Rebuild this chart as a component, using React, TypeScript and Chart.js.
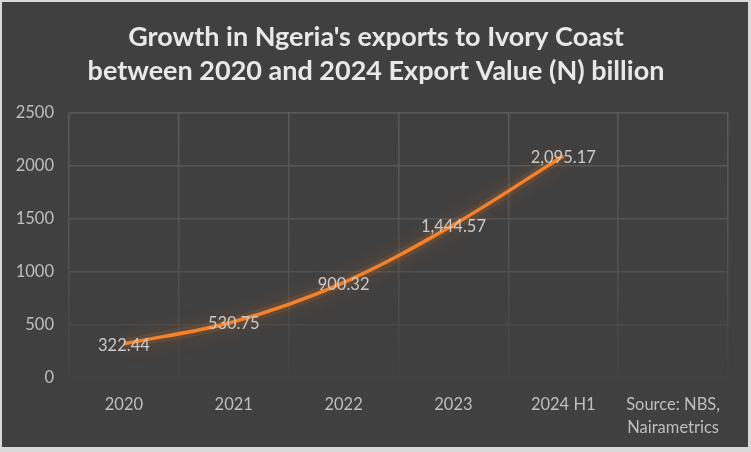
import React, { useEffect, useRef } from "react";
import { Chart, registerables } from "chart.js";

Chart.register(...registerables);

const categories: (string | string[])[] = ["2020", "2021", "2022", "2023", "2024 H1", ["Source: NBS,", "Nairametrics"]];
const exportValues: (number | null)[] = [322.44, 530.75, 900.32, 1444.57, 2095.17, null];
const valueLabels: string[] = ["322.44", "530.75", "900.32", "1,444.57", "2,095.17", ""];
const titleLines: string[] = ["Growth in Ngeria's exports to Ivory Coast", "between 2020 and 2024 Export Value (N) billion"];

const FONT = "Lato, 'Open Sans', sans-serif";

export default function App() {
  const ref = useRef<HTMLCanvasElement | null>(null);

  useEffect(() => {
    if (!ref.current) return;
    document.body.style.margin = "0";

    const titlePlugin = {
      id: "titleDraw",
      afterDraw(chart: any) {
        const ctx = chart.ctx;
        ctx.save();
        ctx.fillStyle = "#e8e8e8";
        ctx.font = `bold 27px ${FONT}`;
        ctx.textAlign = "center";
        ctx.textBaseline = "middle";
        const cx = chart.width / 2 + 1;
        ctx.fillText(titleLines[0], cx, 35);
        ctx.fillText(titleLines[1], cx, 69);
        ctx.restore();
      },
    };

    const glowPlugin = {
      id: "glow",
      beforeDatasetDraw(chart: any, args: any) {
        const ctx = chart.ctx;
        ctx.save();
        if (args.index === 1) {
          ctx.shadowColor = "rgba(230,120,40,0.85)";
          ctx.shadowBlur = 18;
        }
      },
      afterDatasetDraw(chart: any) {
        chart.ctx.restore();
      },
    };

    const labelPlugin = {
      id: "valueLabels",
      afterDatasetsDraw(chart: any) {
        const ctx = chart.ctx;
        const meta = chart.getDatasetMeta(0);
        ctx.save();
        ctx.fillStyle = "#cacaca";
        ctx.font = `16.5px ${FONT}`;
        ctx.textAlign = "center";
        ctx.textBaseline = "middle";
        meta.data.forEach((pt: any, i: number) => {
          if (exportValues[i] == null) return;
          ctx.fillText(valueLabels[i], pt.x, pt.y + 2);
        });
        ctx.restore();
      },
    };

    const gridColor = (c: any) => {
      const chart = c.chart;
      const area = chart.chartArea;
      if (!area) return "#585858";
      const g = chart.ctx.createLinearGradient(0, area.top, 0, area.bottom);
      g.addColorStop(0, "#5a5a5a");
      g.addColorStop(0.55, "#525252");
      g.addColorStop(1, "#424242");
      return g;
    };

    const chart = new Chart(ref.current, {
      type: "line",
      data: {
        labels: categories,
        datasets: [
          {
            data: exportValues,
            borderColor: "#F4822C",
            borderWidth: 3.5,
            pointRadius: 0,
            tension: 0.35,
            fill: false,
            order: 0,
          },
          {
            data: exportValues,
            borderColor: "rgba(190,105,40,0.18)",
            borderWidth: 11,
            pointRadius: 0,
            tension: 0.35,
            fill: false,
            order: 1,
          },
        ],
      },
      options: {
        animation: false,
        responsive: false,
        maintainAspectRatio: false,
        layout: { padding: { top: 111, right: 20, left: 0, bottom: 0 } },
        plugins: {
          legend: { display: false },
          title: { display: false },
          tooltip: { enabled: false },
        },
        scales: {
          x: {
            offset: true,
            grid: { color: gridColor, offset: true, drawTicks: false, lineWidth: 1.5 },
            border: { display: false },
            ticks: { color: "#bfbfbf", font: { family: FONT, size: 16.5, lineHeight: 1.35 }, padding: 16, maxRotation: 0, autoSkip: false },
            afterFit: (s: any) => { s.height = 69; },
          },
          y: {
            min: 0,
            max: 2500,
            grid: { color: gridColor, drawTicks: false, lineWidth: 1.5 },
            border: { display: false },
            ticks: { stepSize: 500, color: "#bfbfbf", font: { family: FONT, size: 16.5 }, padding: 15, callback: (v: any) => String(v) },
            afterFit: (s: any) => { s.width = 67; },
          },
        },
      },
      plugins: [titlePlugin, glowPlugin, labelPlugin],
    });

    return () => chart.destroy();
  }, []);

  return (
    <div style={{ position: "absolute", left: 0, top: 0, width: 751, height: 452, background: "#d9d9d9" }}>
      <div style={{ position: "absolute", left: 2, top: 2, width: 746, height: 445, background: "#404040" }}>
        <canvas ref={ref} width={746} height={445} style={{ display: "block", width: 746, height: 445 }} />
      </div>
    </div>
  );
}
